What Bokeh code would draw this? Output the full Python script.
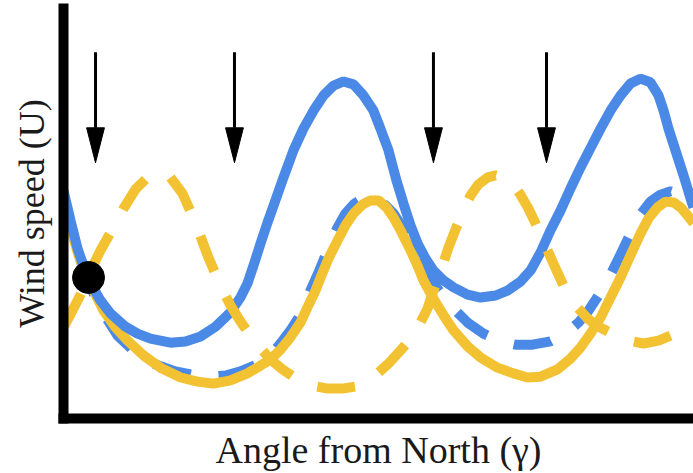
from bokeh.plotting import figure
from bokeh.models import Range1d, FixedTicker
from bokeh.embed import file_html
from bokeh.resources import INLINE

# Wind speed U against angle from North (degrees), four cases
blue_solid_angle = [0, 4.0, 8.0, 13.7, 21.1, 26.9, 35.4, 42.3, 49.7, 61.1, 69.7, 78.3, 86.9, 95.4,
                    101.1, 105.1, 109.1, 112.6, 116.6, 121.1, 125.7, 131.4, 137.1, 142.9, 148.6,
                    154.3, 160.0, 165.7, 171.4, 177.1, 181.1, 185.7, 190.3, 194.3, 198.3, 202.3,
                    206.9, 211.4, 217.1, 222.9, 230.9, 238.3, 246.9, 253.7, 261.1, 266.9, 272.6,
                    278.3, 284.0, 289.7, 295.4, 301.1, 306.9, 312.6, 318.3, 324.0, 329.7, 335.4,
                    340.0, 342.9, 345.7, 349.7, 354.3, 358.3, 360]
blue_solid_speed = [5.56, 4.83, 4.15, 3.44, 2.88, 2.56, 2.24, 2.07, 1.95, 1.85, 1.88, 2.00, 2.24, 2.59,
                    2.95, 3.29, 3.80, 4.27, 4.78, 5.32, 5.88, 6.54, 7.07, 7.51, 7.88,
                    8.12, 8.22, 8.15, 7.88, 7.51, 7.07, 6.54, 5.80, 5.24, 4.71, 4.27,
                    3.90, 3.61, 3.37, 3.20, 3.02, 2.95, 3.00, 3.12, 3.34, 3.61, 4.05,
                    4.59, 5.07, 5.61, 6.12, 6.59, 7.07, 7.51, 7.88, 8.17, 8.29, 8.20,
                    7.88, 7.51, 7.07, 6.54, 5.93, 5.37, 5.15]

blue_dash_angle = [0, 4.0, 8.6, 14.3, 21.1, 30.9, 41.1, 52.6, 64.0, 75.4, 84.0, 92.6, 101.1, 110.9,
                   118.3, 124.0, 129.7, 134.3, 138.3, 141.1, 145.7, 149.7, 153.1, 156.6, 161.1,
                   165.7, 170.9, 175.4, 180.0, 184.0, 188.6, 194.3, 200.0, 204.0, 208.0, 213.7,
                   219.4, 225.7, 230.9, 240.0, 249.7, 258.3, 268.0, 278.3, 286.9, 294.3, 299.4,
                   305.7, 312.6, 318.3, 324.0, 329.7, 335.4, 341.1, 346.9, 352.6, 360]
blue_dash_speed = [5.44, 4.71, 3.98, 3.32, 2.68, 2.02, 1.61, 1.32, 1.15, 1.05, 1.02, 1.05, 1.15, 1.32,
                   1.54, 1.83, 2.15, 2.46, 2.80, 3.12, 3.56, 3.98, 4.34, 4.66, 5.00,
                   5.22, 5.37, 5.39, 5.32, 5.20, 5.00, 4.63, 4.27, 3.90, 3.56, 3.17,
                   2.83, 2.56, 2.34, 2.07, 1.88, 1.80, 1.80, 1.88, 2.07, 2.34, 2.59,
                   3.00, 3.51, 4.00, 4.51, 4.98, 5.29, 5.46, 5.54, 5.46, 5.15]

yellow_solid_angle = [0, 4.0, 8.6, 14.3, 22.9, 29.7, 36.6, 45.7, 55.4, 66.9, 76.6, 85.7, 95.4, 105.1,
                      112.6, 118.3, 124.0, 129.7, 135.4, 139.4, 144.0, 146.9, 151.4, 156.6, 161.1,
                      165.7, 170.9, 175.4, 180.0, 184.6, 188.6, 192.6, 198.3, 202.3, 205.7, 209.7,
                      213.7, 218.3, 222.9, 230.9, 238.3, 248.0, 257.1, 265.1, 272.6, 282.3, 289.7,
                      295.4, 301.1, 306.9, 312.6, 318.3, 324.0, 329.7, 334.3, 339.4, 344.0, 348.6,
                      352.6, 356.6, 360]
yellow_solid_speed = [5.32, 4.63, 3.98, 3.37, 2.63, 2.22, 1.90, 1.54, 1.24, 1.00, 0.90, 0.85, 0.93, 1.10,
                      1.29, 1.44, 1.68, 1.98, 2.34, 2.71, 3.12, 3.44, 3.90, 4.34, 4.71,
                      5.00, 5.22, 5.32, 5.32, 5.15, 4.90, 4.59, 4.10, 3.73, 3.37, 3.05,
                      2.76, 2.44, 2.15, 1.76, 1.49, 1.24, 1.10, 1.00, 1.02, 1.20, 1.46,
                      1.73, 2.07, 2.46, 2.95, 3.44, 3.98, 4.51, 4.88, 5.15, 5.29, 5.27,
                      5.15, 4.95, 4.76]

yellow_dash_angle = [0, 4.0, 9.7, 15.4, 21.1, 28.6, 34.3, 41.1, 48.0, 54.3, 61.1, 68.0, 75.4, 82.3,
                     89.7, 95.4, 101.1, 106.9, 112.6, 118.3, 125.1, 133.7, 142.3, 150.9, 159.4,
                     166.9, 172.6, 179.4, 185.7, 192.6, 199.4, 204.0, 208.0, 210.9, 213.7, 217.1,
                     220.0, 224.0, 228.6, 232.6, 237.1, 242.3, 246.9, 251.4, 256.6, 261.1, 265.7,
                     269.7, 273.7, 279.4, 285.7, 292.6, 299.4, 305.7, 314.3, 322.9, 331.4, 340.0,
                     349.7, 360]
yellow_dash_speed = [2.22, 2.54, 3.02, 3.59, 4.10, 4.66, 5.12, 5.59, 5.88, 6.00, 5.88, 5.49, 4.78, 3.98,
                     3.24, 2.76, 2.37, 2.02, 1.71, 1.44, 1.20, 0.95, 0.80, 0.73, 0.73,
                     0.78, 0.90, 1.10, 1.34, 1.66, 2.00, 2.34, 2.68, 3.05, 3.41, 3.80,
                     4.17, 4.61, 5.07, 5.44, 5.71, 5.88, 5.93, 5.88, 5.73, 5.46, 5.12,
                     4.76, 4.39, 3.83, 3.24, 2.76, 2.44, 2.24, 2.05, 1.90, 1.83, 1.90,
                     2.07, 2.32]

# Downward arrows marking particular directions
arrow_angle = [18.3, 97.7, 211.4, 276.0]
arrow_top = 8.93
arrow_tip = 6.24

# Marked crossing point
point_angle = [14.3]
point_speed = [3.44]

BLUE = "#4a89e6"
YELLOW = "#f2c232"
LW = 10
DASH = "38 28"

p = figure(width=693, height=473, output_backend="svg", toolbar_location=None,
           x_range=Range1d(0, 360), y_range=Range1d(0, 10),
           min_border_left=63, min_border_right=0, min_border_top=8, min_border_bottom=55,
           background_fill_color="white", border_fill_color="white")
p.outline_line_color = None
p.xgrid.visible = False
p.ygrid.visible = False

for ax in (p.xaxis, p.yaxis):
    ax.ticker = FixedTicker(ticks=[])
    ax.major_tick_out = 0
    ax.major_tick_in = 0
    ax.minor_tick_out = 0
    ax.minor_tick_in = 0
    ax.major_label_text_font_size = "0px"
    ax.axis_line_width = 10
    ax.axis_line_color = "black"
    ax.axis_line_cap = "square"
    ax.axis_label_text_font = "Liberation Serif"
    ax.axis_label_text_font_style = "normal"
    ax.axis_label_text_color = "#1a1a1a"

p.xaxis.axis_label = "Angle from North (γ)"
p.xaxis.axis_label_text_font_size = "38px"
p.xaxis.axis_label_standoff = 10
p.yaxis.axis_label = "Wind speed (U)"
p.yaxis.axis_label_text_font_size = "36px"
p.yaxis.axis_label_standoff = 12

p.line(blue_dash_angle, blue_dash_speed, line_color=BLUE, line_width=LW, line_dash=DASH)
p.line(yellow_solid_angle, yellow_solid_speed, line_color=YELLOW, line_width=LW)
p.line(blue_solid_angle, blue_solid_speed, line_color=BLUE, line_width=LW)
p.line(yellow_dash_angle, yellow_dash_speed, line_color=YELLOW, line_width=LW, line_dash=DASH)

# arrow shafts and heads
head_half_width = 5.1   # degrees
head_length = 0.85      # speed units
head_base = [arrow_tip + head_length] * len(arrow_angle)
p.segment(x0=arrow_angle, y0=[arrow_top] * len(arrow_angle), x1=arrow_angle, y1=head_base,
          line_color="black", line_width=3)
p.patches(xs=[[a - head_half_width, a + head_half_width, a] for a in arrow_angle],
          ys=[[b, b, arrow_tip] for b in head_base],
          fill_color="black", line_color="black", line_width=1)

p.scatter(point_angle, point_speed, size=32, fill_color="black", line_color="black")

open("out.html", "w").write(file_html(p, INLINE))
